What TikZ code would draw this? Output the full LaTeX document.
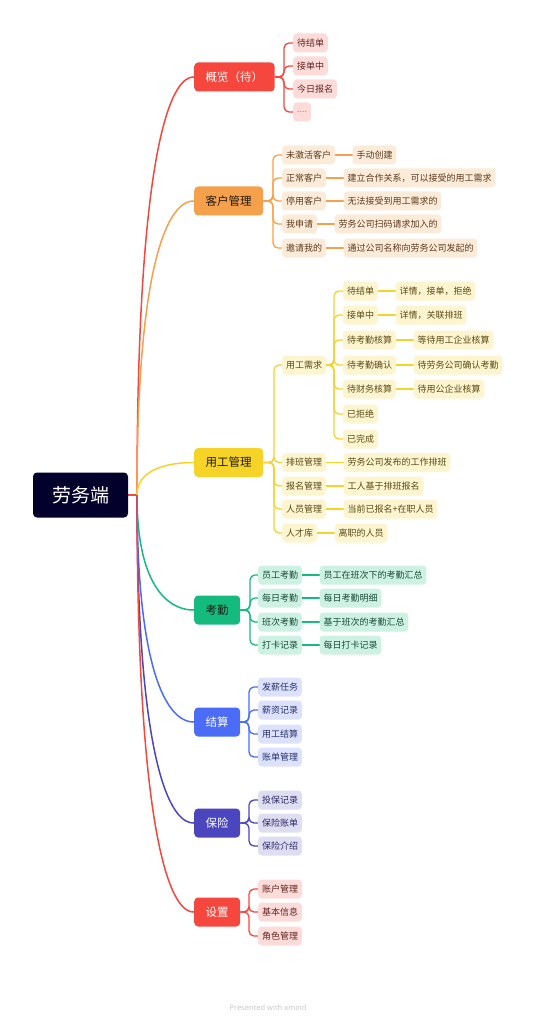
\documentclass[tikz,border=0pt]{standalone}
\usepackage{fontspec}
\newfontfamily\cjk{Noto Sans CJK SC}
\newfontfamily\footfont{Noto Sans}
\usetikzlibrary{calc,positioning,backgrounds}
\definecolor{rootc}{HTML}{03012C}
\definecolor{cR}{HTML}{F5473E}
\definecolor{cRl}{HTML}{FDDBD8}
\definecolor{cRt}{HTML}{5E2522}
\definecolor{cO}{HTML}{F5A04B}
\definecolor{cOl}{HTML}{FDEBDA}
\definecolor{cOt}{HTML}{5A3B1E}
\definecolor{cY}{HTML}{F5D327}
\definecolor{cYl}{HTML}{FDF4D0}
\definecolor{cYt}{HTML}{5A4B14}
\definecolor{cG}{HTML}{15BA7E}
\definecolor{cGl}{HTML}{CDF1E2}
\definecolor{cGt}{HTML}{1A4B38}
\definecolor{cB}{HTML}{4A6CF6}
\definecolor{cBl}{HTML}{DCE2FD}
\definecolor{cBt}{HTML}{27316A}
\definecolor{cP}{HTML}{4B45BE}
\definecolor{cPl}{HTML}{DEDDF2}
\definecolor{cPt}{HTML}{2D2A63}
\definecolor{mainText}{HTML}{1E1A14}
\definecolor{footc}{HTML}{C8C8C8}
\tikzset{
  rootbox/.style={rounded corners=4pt, fill=rootc, text=white, minimum width=95pt, minimum height=45pt, inner sep=0pt, font=\cjk\fontsize{19}{19}\selectfont},
  mainbox/.style={rounded corners=4pt, minimum height=29pt, inner xsep=11.5pt, inner ysep=0pt, font=\cjk\fontsize{11.5}{11.5}\selectfont, anchor=west},
  childbox/.style={rounded corners=3.5pt, minimum height=19pt, inner xsep=3.8pt, inner ysep=0pt, font=\cjk\fontsize{9}{9}\selectfont, anchor=west},
  cr/.style={childbox, fill=cRl, text=cRt},
  co/.style={childbox, fill=cOl, text=cOt},
  cy/.style={childbox, fill=cYl, text=cYt},
  cg/.style={childbox, fill=cGl, text=cGt},
  cb/.style={childbox, fill=cBl, text=cBt},
  cp/.style={childbox, fill=cPl, text=cPt},
  gap/.style={right=17.5pt of #1},
  trunk/.style={line width=1.5pt},
  twig/.style={line width=1.3pt, rounded corners=5pt},
}
\begin{document}
\begin{tikzpicture}[x=1pt,y=-1pt]
\useasboundingbox (0,0) rectangle (535,1024);
% root
\node[rootbox] (r) at (80.5,495) {劳务端};
\coordinate (j) at (137,495);
% main topics
\node[mainbox, fill=cR, text=white] (m1) at (194,77) {概览（待）};
\node[mainbox, fill=cO, text=mainText] (m2) at (194,201) {客户管理};
\node[mainbox, fill=cY, text=mainText] (m3) at (194,462.5) {用工管理};
\node[mainbox, fill=cG, text=mainText] (m4) at (194,610) {考勤};
\node[mainbox, fill=cB, text=white] (m5) at (194,722) {结算};
\node[mainbox, fill=cP, text=white] (m6) at (194,823) {保险};
\node[mainbox, fill=cR, text=white] (m7) at (194,912) {设置};
% 概览
\node[cr] (a1) at (293,43) {待结单};
\node[cr] (a2) at (293,66) {接单中};
\node[cr] (a3) at (293,89) {今日报名};
\node[cr, text=cRt!55] (a4) at (293,112) {....};
% 客户管理
\node[co] (b1) at (282,155) {未激活客户};
\node[co] (b2) at (282,178) {正常客户};
\node[co] (b3) at (282,201) {停用客户};
\node[co] (b4) at (282,224) {我申请};
\node[co] (b5) at (282,248) {邀请我的};
\node[co, gap=b1] (b1g) {手动创建};
\node[co, gap=b2] (b2g) {建立合作关系，可以接受的用工需求};
\node[co, gap=b3] (b3g) {无法接受到用工需求的};
\node[co, gap=b4] (b4g) {劳务公司扫码请求加入的};
\node[co, gap=b5] (b5g) {通过公司名称向劳务公司发起的};
% 用工管理
\node[cy] (c0) at (282,365) {用工需求};
\node[cy] (c1) at (282,462.5) {排班管理};
\node[cy] (c2) at (282,486) {报名管理};
\node[cy] (c3) at (282,509) {人员管理};
\node[cy] (c4) at (282,533) {人才库};
\node[cy, gap=c1] (c1g) {劳务公司发布的工作排班};
\node[cy, gap=c2] (c2g) {工人基于排班报名};
\node[cy, gap=c3] (c3g) {当前已报名+在职人员};
\node[cy, gap=c4] (c4g) {离职的人员};
\node[cy] (d1) at (343,291) {待结单};
\node[cy] (d2) at (343,315) {接单中};
\node[cy] (d3) at (343,340) {待考勤核算};
\node[cy] (d4) at (343,365) {待考勤确认};
\node[cy] (d5) at (343,389) {待财务核算};
\node[cy] (d6) at (343,414) {已拒绝};
\node[cy] (d7) at (343,439) {已完成};
\node[cy, gap=d1] (d1g) {详情，接单，拒绝};
\node[cy, gap=d2] (d2g) {详情，关联排班};
\node[cy, gap=d3] (d3g) {等待用工企业核算};
\node[cy, gap=d4] (d4g) {待劳务公司确认考勤};
\node[cy, gap=d5] (d5g) {待用公企业核算};
% 考勤
\node[cg] (e1) at (258,575) {员工考勤};
\node[cg] (e2) at (258,598) {每日考勤};
\node[cg] (e3) at (258,622) {班次考勤};
\node[cg] (e4) at (258,645) {打卡记录};
\node[cg, gap=e1] (e1g) {员工在班次下的考勤汇总};
\node[cg, gap=e2] (e2g) {每日考勤明细};
\node[cg, gap=e3] (e3g) {基于班次的考勤汇总};
\node[cg, gap=e4] (e4g) {每日打卡记录};
% 结算
\node[cb] (f1) at (258,687) {发薪任务};
\node[cb] (f2) at (258,710) {薪资记录};
\node[cb] (f3) at (258,734) {用工结算};
\node[cb] (f4) at (258,757) {账单管理};
% 保险
\node[cp] (g1) at (258,800) {投保记录};
\node[cp] (g2) at (258,823) {保险账单};
\node[cp] (g3) at (258,846) {保险介绍};
% 设置
\node[cr] (h1) at (258,889) {账户管理};
\node[cr] (h2) at (258,912) {基本信息};
\node[cr] (h3) at (258,936) {角色管理};
% footer
\node[text=footc, font=\footfont\fontsize{7.5}{7.5}\selectfont] (foot) at (268,1008) {Presented with \textbf{xmind}};
% bar coordinates
\coordinate (m1b) at (284,77);
\coordinate (m2b) at (273,201);
\coordinate (m3b) at (274,462.5);
\coordinate (c0b) at (334,365);
\coordinate (m4b) at (250,610);
\coordinate (m5b) at (249,722);
\coordinate (m6b) at (249,823);
\coordinate (m7b) at (249,912);
\begin{pgfonlayer}{background}
% trunk curves
\draw[trunk, cR] (r.east) -- (j);
\foreach \m/\c in {m1/cR, m2/cO, m3/cY, m4/cG, m5/cB, m6/cP, m7/cR}
  \draw[trunk, \c] (j) .. controls (j |- \m.west) and ($(\m.west)+(-8,0)$) .. (\m.west);
% twigs
\foreach \k in {a1,a2,a3,a4} \draw[twig, cR] (m1.east) -- (m1b) |- (\k.west);
\foreach \k in {b1,b2,b3,b4,b5} \draw[twig, cO] (m2.east) -- (m2b) |- (\k.west);
\foreach \k in {c0,c1,c2,c3,c4} \draw[twig, cY] (m3.east) -- (m3b) |- (\k.west);
\foreach \k in {d1,d2,d3,d4,d5,d6,d7} \draw[twig, cY] (c0.east) -- (c0b) |- (\k.west);
\foreach \k in {e1,e2,e3,e4} \draw[twig, cG] (m4.east) -- (m4b) |- (\k.west);
\foreach \k in {f1,f2,f3,f4} \draw[twig, cB] (m5.east) -- (m5b) |- (\k.west);
\foreach \k in {g1,g2,g3} \draw[twig, cP] (m6.east) -- (m6b) |- (\k.west);
\foreach \k in {h1,h2,h3} \draw[twig, cR] (m7.east) -- (m7b) |- (\k.west);
% leaf links
\foreach \k in {b1,b2,b3,b4,b5} \draw[twig, cO] (\k.east) -- (\k g.west);
\foreach \k in {c1,c2,c3,c4,d1,d2,d3,d4,d5} \draw[twig, cY] (\k.east) -- (\k g.west);
\foreach \k in {e1,e2,e3,e4} \draw[twig, cG] (\k.east) -- (\k g.west);
\end{pgfonlayer}
\end{tikzpicture}
\end{document}
